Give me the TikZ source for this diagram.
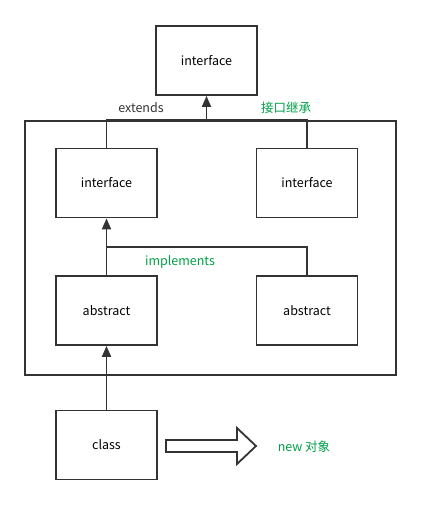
\documentclass[tikz,border=0pt]{standalone}
\usepackage{fontspec}
\setmainfont{Noto Sans CJK SC}
\usetikzlibrary{arrows.meta, positioning}
\definecolor{lineDark}{RGB}{51,51,51}
\definecolor{labelGreen}{RGB}{0,160,70}
\tikzset{
  umlBox/.style={
    draw=lineDark,
    line width=1.8pt,
    minimum width=101pt,
    minimum height=69pt,
    font=\fontsize{12.5}{14}\selectfont,
    inner sep=0pt
  },
  groupBox/.style={draw=lineDark, line width=1.8pt, minimum width=371pt, minimum height=254pt, inner sep=0pt},
  plainLine/.style={draw=lineDark, line width=1.8pt},
  umlArrow/.style={-{Triangle[length=11pt,width=9pt]}, line width=1.8pt, draw=lineDark},
  edgeLabel/.style={font=\fontsize{12.5}{14}\selectfont, text=lineDark, inner sep=0pt},
  greenLabel/.style={edgeLabel, text=labelGreen}
}

\begin{document}
\begin{tikzpicture}[x=1pt, y=-1pt]
  \useasboundingbox (0,0) rectangle (421,506);

  \node[groupBox] (frame) at (210.5,248) {};
  \node[umlBox] (top) at (206.5,60.5) {interface};
  \node[umlBox] (ifLeft) at (106.5,183) {interface};
  \node[umlBox] (ifRight) at (307,183) {interface};
  \node[umlBox] (absLeft) at (106.5,310.5) {abstract};
  \node[umlBox] (absRight) at (307,310.5) {abstract};
  \node[umlBox] (cls) at (106.5,445) {class};

  \coordinate (joint) at (106.5,247);

  % interface extends
  \draw[plainLine] (ifLeft.north) -- (ifLeft.north |- frame.north) -- (ifRight.north |- frame.north) -- (ifRight.north);
  \draw[umlArrow] (top.south |- frame.north) -- (top.south);

  % implements
  \draw[umlArrow] (absLeft.north) -- (ifLeft.south);
  \draw[plainLine] (absRight.north) |- (joint);

  \draw[umlArrow] (cls.north) -- (absLeft.south);

  % new object
  \draw[draw=lineDark, line width=1.8pt, fill=white]
    (166,440) -- (237,440) -- (237,428) -- (256,446) -- (237,464) -- (237,452) -- (166,452) -- cycle;

  \node[edgeLabel] (lblExtends) at (141,108) {extends};
  \node[greenLabel] (lblInherit) at (286,108) {接口继承};
  \node[greenLabel] (lblImpl) at (180,262) {implements};
  \node[greenLabel] (lblNew) at (304,447) {new 对象};
\end{tikzpicture}
\end{document}
